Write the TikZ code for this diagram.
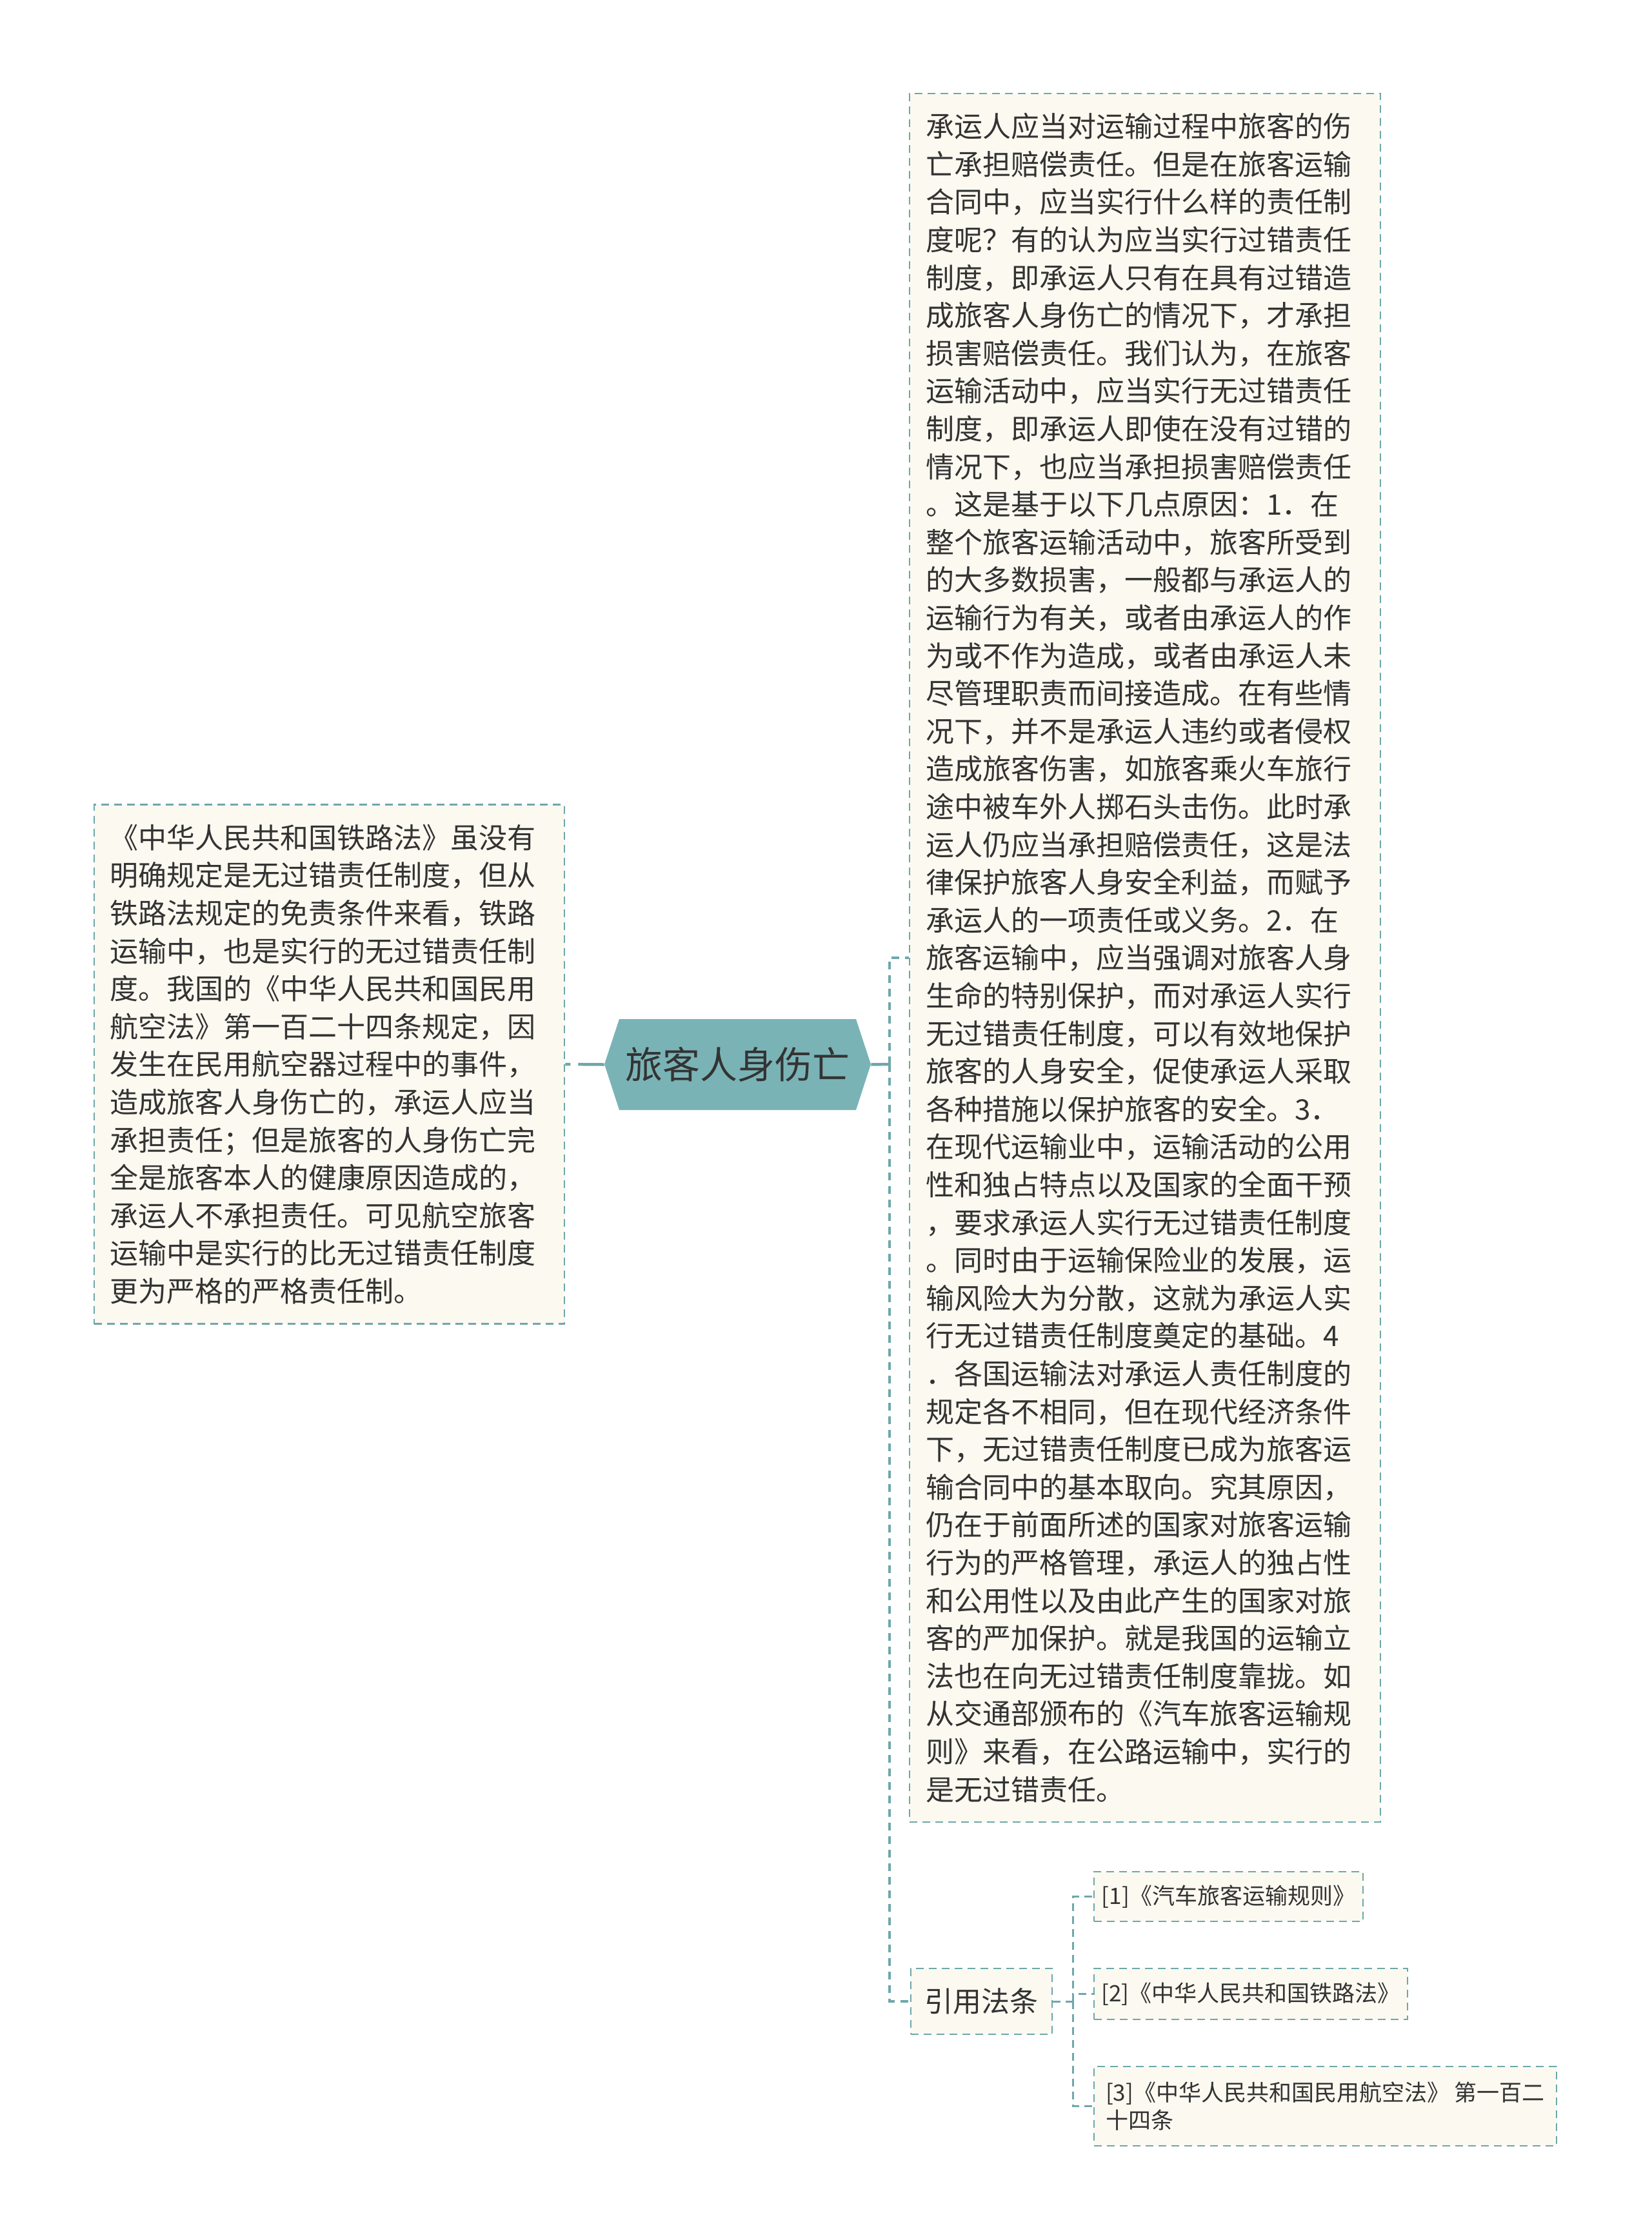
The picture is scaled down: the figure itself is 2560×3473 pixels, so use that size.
\documentclass[tikz,border=0pt]{standalone}
\usepackage{fontspec}
\setmainfont{Noto Sans CJK SC}
\definecolor{tealline}{HTML}{6EA7AB}
\definecolor{hexfill}{HTML}{7AB3B6}
\definecolor{boxfill}{HTML}{FBF9F0}
\definecolor{txt}{HTML}{333333}
\begin{document}
\begin{tikzpicture}[x=0.5pt,y=-0.5pt,
  box/.style={rectangle, draw=tealline, line width=1.25pt, dash pattern=on 6pt off 4pt, fill=boxfill, text=txt, inner sep=0pt},
  body/.style={font=\fontsize{22pt}{29.3pt}\selectfont, align=left, text width=340pt},
  reff/.style={font=\fontsize{17.5pt}{21.5pt}\selectfont, align=left},
  trunk/.style={draw=tealline, line width=2.25pt, dash pattern=on 6pt off 4.5pt},
  subline/.style={draw=tealline, line width=1.5pt, dash pattern=on 6pt off 4pt}]
\useasboundingbox (0,0) rectangle (2560,3473);

% central topic
\fill[hexfill] (937,1650) -- (960,1580) -- (1327,1580) -- (1350,1650) -- (1327,1721) -- (960,1721) -- cycle;
\node[font=\fontsize{29pt}{35pt}\selectfont, text=txt, minimum width=206.5pt, minimum height=70.5pt, inner sep=0pt] (hex) at (1143.5,1650.5) {旅客人身伤亡};

% left box
\node[box, body, minimum width=364.5pt, minimum height=402.5pt] (left) at (510.5,1650) {《中华人民共和国铁路法》虽没有\\明确规定是无过错责任制度，但从\\铁路法规定的免责条件来看，铁路\\运输中，也是实行的无过错责任制\\度。我国的《中华人民共和国民用\\航空法》第一百二十四条规定，因\\发生在民用航空器过程中的事件，\\造成旅客人身伤亡的，承运人应当\\承担责任；但是旅客的人身伤亡完\\全是旅客本人的健康原因造成的，\\承运人不承担责任。可见航空旅客\\运输中是实行的比无过错责任制度\\更为严格的严格责任制。};

% big right box
\node[box, body, minimum width=365pt, minimum height=1340pt] (big) at (1775,1485) {承运人应当对运输过程中旅客的伤\\亡承担赔偿责任。但是在旅客运输\\合同中，应当实行什么样的责任制\\度呢？有的认为应当实行过错责任\\制度，即承运人只有在具有过错造\\成旅客人身伤亡的情况下，才承担\\损害赔偿责任。我们认为，在旅客\\运输活动中，应当实行无过错责任\\制度，即承运人即使在没有过错的\\情况下，也应当承担损害赔偿责任\\。这是基于以下几点原因：1．在\\整个旅客运输活动中，旅客所受到\\的大多数损害，一般都与承运人的\\运输行为有关，或者由承运人的作\\为或不作为造成，或者由承运人未\\尽管理职责而间接造成。在有些情\\况下，并不是承运人违约或者侵权\\造成旅客伤害，如旅客乘火车旅行\\途中被车外人掷石头击伤。此时承\\运人仍应当承担赔偿责任，这是法\\律保护旅客人身安全利益，而赋予\\承运人的一项责任或义务。2．在\\旅客运输中，应当强调对旅客人身\\生命的特别保护，而对承运人实行\\无过错责任制度，可以有效地保护\\旅客的人身安全，促使承运人采取\\各种措施以保护旅客的安全。3．\\在现代运输业中，运输活动的公用\\性和独占特点以及国家的全面干预\\，要求承运人实行无过错责任制度\\。同时由于运输保险业的发展，运\\输风险大为分散，这就为承运人实\\行无过错责任制度奠定的基础。4\\．各国运输法对承运人责任制度的\\规定各不相同，但在现代经济条件\\下，无过错责任制度已成为旅客运\\输合同中的基本取向。究其原因，\\仍在于前面所述的国家对旅客运输\\行为的严格管理，承运人的独占性\\和公用性以及由此产生的国家对旅\\客的严加保护。就是我国的运输立\\法也在向无过错责任制度靠拢。如\\从交通部颁布的《汽车旅客运输规\\则》来看，在公路运输中，实行的\\是无过错责任。};

% 引用法条
\node[box, font=\fontsize{22pt}{26pt}\selectfont, minimum width=109.5pt, minimum height=51pt] (yy) at (1521.5,3103) {引用法条};

% references
\node[box, reff, minimum width=208.5pt, minimum height=38.5pt] (r1) at (1904.5,2940.5) {[1]《汽车旅客运输规则》};
\node[box, reff, minimum width=243pt, minimum height=39.5pt] (r2) at (1939,3091.5) {[2]《中华人民共和国铁路法》};
\node[box, reff, minimum width=358.5pt, minimum height=61.5pt] (r3) at (2054.5,3265.5) {[3]《中华人民共和国民用航空法》 第一百二\\十四条};

% connectors
\draw[tealline, line width=2.25pt, dash pattern=on 4pt off 6pt on 40pt] (left.east) -- (hex.west);
\coordinate (mt) at (1379,1650);
\draw[tealline, line width=2.25pt] (hex.east) -- (mt);
\draw[trunk] (mt) |- (big.west);
\draw[trunk] (mt) |- (yy.west);
\coordinate (st) at (1663,3103);
\draw[subline] (yy.east) -- (st);
\draw[subline] (st) |- (r1.west);
\draw[subline] (st) |- (r2.west);
\draw[subline] (st) |- (r3.west);
\end{tikzpicture}
\end{document}
